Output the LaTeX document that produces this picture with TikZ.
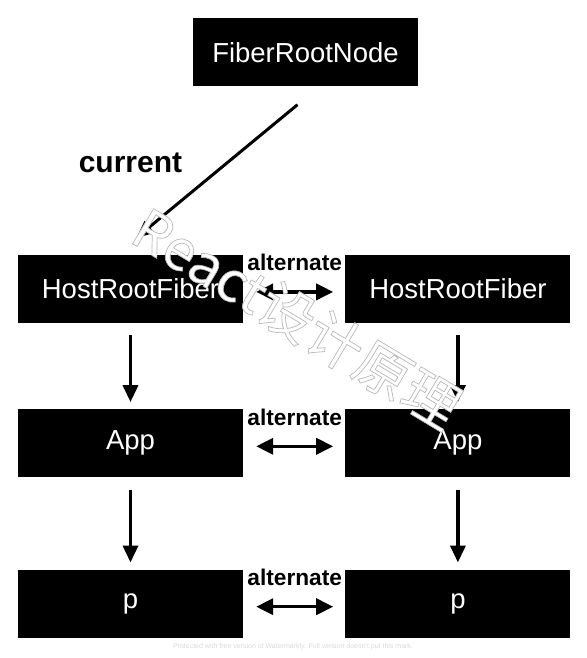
\documentclass[tikz,border=0pt]{standalone}
\usepackage{fontspec}
\setmainfont{Liberation Sans}
\newfontfamily\cjk{Noto Sans CJK SC}
\usetikzlibrary{
  arrows.meta,
  positioning,
}
\newcommand{\outlined}[1]{\special{pdf:literal direct 2 Tr 0.7 w 0.72 G}#1\special{pdf:literal direct 0 Tr}}

\begin{document}
\begin{tikzpicture}[
    x=1pt, y=1pt,
    fiber/.style={fill=black, text=white, minimum width=225pt, minimum height=68pt,
      inner sep=0pt, font=\fontsize{27.5}{32}\selectfont},
    link/.style={line width=3.5pt, -{Triangle[length=17pt,width=15pt]}},
    alt/.style={line width=3.5pt,
      {Triangle[length=17pt,width=16pt]}-{Triangle[length=17pt,width=16pt]}},
    lbl/.style={inner sep=0pt, font=\bfseries\fontsize{22.7}{26}\selectfont},
    wmark/.style={rotate=-31, inner sep=0pt, font=\cjk\fontsize{56}{62}\selectfont},
  ]
    \useasboundingbox (0,0) rectangle (586,-658);
    \node [fiber] (root) at (305.5,-52.5) {FiberRootNode};
    \node [fiber, below=168pt of root, xshift=-175pt] (hostA) {HostRootFiber};
    \node [fiber, right=102pt of hostA] (hostB) {HostRootFiber};
    \node [fiber, below=86pt of hostA] (appA) {App};
    \node [fiber, right=102pt of appA] (appB) {App};
    \node [fiber, below=92pt of appA] (pA) {p};
    \node [fiber, right=102pt of pA] (pB) {p};
    \draw [link, line width=3pt] ([xshift=-8pt,yshift=-18pt]root.south)
      -- node [lbl, pos=0.44, left=43pt, font=\bfseries\fontsize{30}{34}\selectfont] (cur) {current}
      ([xshift=6pt,yshift=17pt]hostA.north);
    \draw [alt] ([xshift=13pt,yshift=-3pt]hostA.east)
      -- node [lbl, midway, above=19pt] (altA) {alternate} ([xshift=-12pt,yshift=-3pt]hostB.west);
    \draw [alt] ([xshift=13pt,yshift=-3pt]appA.east)
      -- node [lbl, midway, above=19pt] (altB) {alternate} ([xshift=-12pt,yshift=-3pt]appB.west);
    \draw [alt] ([xshift=13pt,yshift=-3pt]pA.east)
      -- node [lbl, midway, above=19pt] (altC) {alternate} ([xshift=-12pt,yshift=-3pt]pB.west);
    \draw [link] ([yshift=-12pt]hostA.south) -- ([yshift=7pt]appA.north);
    \draw [link] ([yshift=-12pt]appA.south) -- ([yshift=7pt]pA.north);
    \draw [link] ([yshift=-12pt]hostB.south) -- ([yshift=7pt]appB.north);
    \draw [link] ([yshift=-12pt]appB.south) -- ([yshift=7pt]pB.north);
    % watermark
    \node [wmark, text=white] (mark) at (297,-318) {\outlined{React设计原理}};
    \node [text=gray!30, inner sep=0pt, font=\fontsize{7}{8}\selectfont] (foot) at (293,-647)
      {Protected with free version of Watermarkly. Full version doesn't put this mark.};
\end{tikzpicture}
\end{document}
